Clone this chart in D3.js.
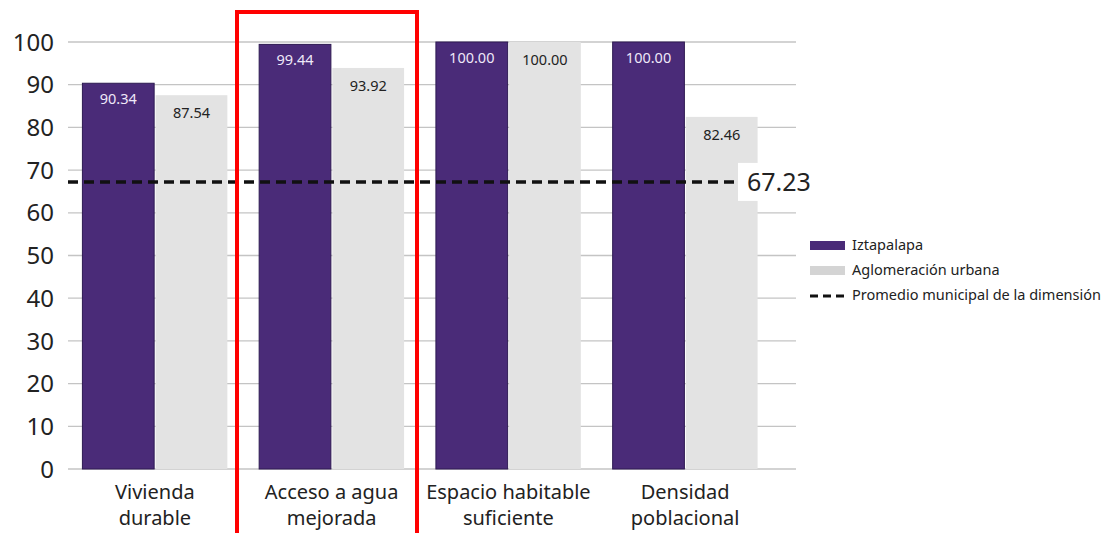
<!DOCTYPE html>
<html>
<head>
<meta charset="utf-8">
<script src="https://cdn.jsdelivr.net/npm/d3@7"></script>
<style>
  body { margin: 0; background: #fff; }
  text { font-family: "Noto Sans", "Open Sans", sans-serif; }
</style>
</head>
<body>
<div id="chart"></div>
<script>
// data
var categories = [["Vivienda", "durable"], ["Acceso a agua", "mejorada"], ["Espacio habitable", "suficiente"], ["Densidad", "poblacional"]];
var iztapalapa = [90.34, 99.44, 100.00, 100.00];
var aglomeracion = [87.54, 93.92, 100.00, 82.46];
var promedio = 67.23;
var yTicks = [0, 10, 20, 30, 40, 50, 60, 70, 80, 90, 100];
var legendLabels = ["Iztapalapa", "Aglomeración urbana", "Promedio municipal de la dimensión"];

var width = 1116, height = 533;
var purple = "#4a2b78", gray = "#e3e3e3";

var svg = d3.select("#chart").append("svg")
  .attr("width", width)
  .attr("height", height);

var y = d3.scaleLinear().domain([0, 100]).range([469, 42]);

var x = d3.scaleBand()
  .domain(d3.range(categories.length))
  .range([66.5, 773.5])
  .paddingInner(0.18)
  .paddingOuter(0.09);

var x1 = d3.scaleBand()
  .domain([0, 1])
  .range([0, x.bandwidth()])
  .paddingInner(0.02);

// gridlines
svg.append("g").selectAll("line")
  .data(yTicks)
  .join("line")
    .attr("x1", 68).attr("x2", 796)
    .attr("y1", d => y(d)).attr("y2", d => y(d))
    .attr("stroke", "#c4c4c4")
    .attr("stroke-width", 1.3);

// y labels
svg.append("g").selectAll("text")
  .data(yTicks)
  .join("text")
    .attr("x", 54)
    .attr("y", d => y(d))
    .attr("dy", "0.36em")
    .attr("text-anchor", "end")
    .attr("font-size", 24)
    .attr("fill", "#222")
    .text(d => d);

// bars
var groups = svg.append("g").selectAll("g")
  .data(categories)
  .join("g")
    .attr("transform", (d, i) => "translate(" + x(i) + ",0)");

groups.append("rect")
  .attr("x", x1(0))
  .attr("width", x1.bandwidth())
  .attr("y", (d, i) => y(iztapalapa[i]))
  .attr("height", (d, i) => y(0) - y(iztapalapa[i]))
  .attr("fill", purple)
  .attr("stroke", "#2e1a52")
  .attr("stroke-width", 1);

groups.append("rect")
  .attr("x", x1(1))
  .attr("width", x1.bandwidth())
  .attr("y", (d, i) => y(aglomeracion[i]))
  .attr("height", (d, i) => y(0) - y(aglomeracion[i]))
  .attr("fill", gray);

groups.append("text")
  .attr("x", x1(0) + x1.bandwidth() / 2)
  .attr("y", (d, i) => y(iztapalapa[i]) + 21)
  .attr("text-anchor", "middle")
  .attr("font-size", 14.5)
  .attr("fill", "#efe8f8")
  .text((d, i) => iztapalapa[i].toFixed(2));

groups.append("text")
  .attr("x", x1(1) + x1.bandwidth() / 2)
  .attr("y", (d, i) => y(aglomeracion[i]) + 23)
  .attr("text-anchor", "middle")
  .attr("font-size", 14.5)
  .attr("fill", "#222")
  .text((d, i) => aglomeracion[i].toFixed(2));

// category labels
var catText = groups.append("text")
  .attr("x", x.bandwidth() / 2)
  .attr("y", 499)
  .attr("text-anchor", "middle")
  .attr("font-size", 20)
  .attr("fill", "#222");
catText.append("tspan")
  .attr("x", x.bandwidth() / 2)
  .text(d => d[0]);
catText.append("tspan")
  .attr("x", x.bandwidth() / 2)
  .attr("dy", 26)
  .text(d => d[1]);

// average line
svg.append("line")
  .attr("x1", 68).attr("x2", 740)
  .attr("y1", y(promedio)).attr("y2", y(promedio))
  .attr("stroke", "#111")
  .attr("stroke-width", 3.5)
  .attr("stroke-dasharray", "10,6");

svg.append("rect")
  .attr("x", 738).attr("y", y(promedio) - 19)
  .attr("width", 80).attr("height", 38)
  .attr("fill", "#fff");

svg.append("text")
  .attr("x", 747)
  .attr("y", y(promedio))
  .attr("dy", "0.36em")
  .attr("font-size", 25)
  .attr("fill", "#222")
  .text(promedio.toFixed(2));

// legend
var legend = svg.append("g").attr("transform", "translate(810,245)");
legendLabels.forEach(function(lbl, i) {
  var row = legend.append("g").attr("transform", "translate(0," + (i * 25) + ")");
  if (i < 2) {
    row.append("rect")
      .attr("x", 0).attr("y", -4)
      .attr("width", 35).attr("height", 9)
      .attr("fill", i == 0 ? purple : "#d4d4d4");
  } else {
    row.append("line")
      .attr("x1", 0).attr("x2", 35)
      .attr("y1", 1).attr("y2", 1)
      .attr("stroke", "#111")
      .attr("stroke-width", 3)
      .attr("stroke-dasharray", "8,5");
  }
  row.append("text")
    .attr("x", 42)
    .attr("y", 0)
    .attr("dy", "0.36em")
    .attr("font-size", 14.5)
    .attr("fill", "#222")
    .text(lbl);
});

// highlight box
svg.append("rect")
  .attr("x", 237).attr("y", 12)
  .attr("width", 180).attr("height", 530)
  .attr("fill", "none")
  .attr("stroke", "#ff0000")
  .attr("stroke-width", 4);
</script>
</body>
</html>
